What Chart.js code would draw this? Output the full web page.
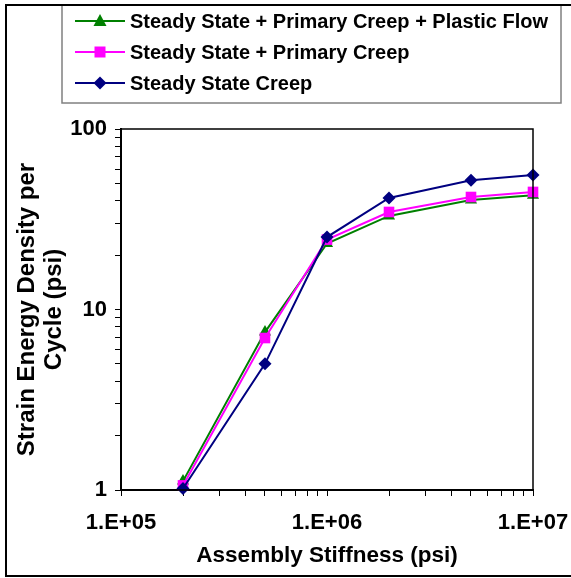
<!DOCTYPE html>
<html>
<head>
<meta charset="utf-8">
<script src="https://cdn.jsdelivr.net/npm/chart.js@4/dist/chart.umd.min.js"></script>
<style>
  html, body { margin: 0; padding: 0; background: #fff; }
  #wrap { width: 571px; height: 578px; }
</style>
</head>
<body>
<div id="wrap"><canvas id="chart_strainEnergy"></canvas></div>
<script>
// data
var stiffness = [2e5, 5e5, 1e6, 2e6, 5e6, 1e7];
var plasticFlow = [1.12, 7.5, 23.2, 33.0, 40.4, 43.0];
var primaryCreep = [1.06, 6.95, 24.4, 34.7, 42.0, 44.8];
var steadyState = [1.02, 5.0, 25.2, 41.5, 52.0, 55.6];

var seriesNames = [
    'Steady State + Primary Creep + Plastic Flow',
    'Steady State + Primary Creep',
    'Steady State Creep'
];

var xTicks = [1e5, 2e5, 3e5, 4e5, 5e5, 6e5, 7e5, 8e5, 9e5,
              1e6, 2e6, 3e6, 4e6, 5e6, 6e6, 7e6, 8e6, 9e6, 1e7];
var xMajor = [1e5, 1e6, 1e7];
var xLabels = ['1.E+05', '1.E+06', '1.E+07'];

var yTicks = [1, 2, 3, 4, 5, 6, 7, 8, 9, 10, 20, 30, 40, 50, 60, 70, 80, 90, 100];
var yMajor = [1, 10, 100];
var yLabels = ['1', '10', '100'];

function points(values) {
    return stiffness.map(function (x, i) { return { x: x, y: values[i] }; });
}

var colors = ['#008000', '#ff00ff', '#000080'];
var shapes = ['triangle', 'rect', 'rectRot'];
var radii = [7, 7.5, 6.5];

var chart_strainEnergy = new Chart(document.getElementById('chart_strainEnergy'), {
    type: 'line',
    data: {
        datasets: [
            {
                label: seriesNames[0],
                data: points(plasticFlow),
                order: 3
            },
            {
                label: seriesNames[1],
                data: points(primaryCreep),
                order: 2
            },
            {
                label: seriesNames[2],
                data: points(steadyState),
                order: 1
            }
        ].map(function (ds, i) {
            ds.borderColor = colors[i];
            ds.backgroundColor = colors[i];
            ds.borderWidth = 2;
            ds.pointStyle = shapes[i];
            ds.pointRadius = radii[i];
            ds.pointBorderWidth = 0;
            ds.tension = 0;
            ds.clip = false;
            return ds;
        })
    },
    options: {
        animation: false,
        responsive: true,
        maintainAspectRatio: false,
        layout: {
            padding: { left: 6, top: 129, right: 38, bottom: 6 }
        },
        plugins: {
            legend: { display: false },
            tooltip: { enabled: false }
        },
        scales: {
            x: {
                type: 'logarithmic',
                min: 1e5,
                max: 1e7,
                afterBuildTicks: function (scale) {
                    scale.ticks = xTicks.map(function (v) { return { value: v }; });
                },
                afterFit: function (scale) {
                    scale.height = 82;
                    scale.paddingLeft = 0;
                    scale.paddingRight = 0;
                },
                ticks: {
                    autoSkip: false,
                    maxRotation: 0,
                    padding: 14,
                    color: '#000',
                    font: { family: 'Liberation Sans', size: 22, weight: 'bold' },
                    callback: function (value) {
                        var i = xMajor.indexOf(value);
                        return i < 0 ? '' : xLabels[i];
                    }
                },
                grid: {
                    drawOnChartArea: false,
                    drawTicks: true,
                    tickLength: 6,
                    tickColor: '#000',
                    tickWidth: 1
                },
                border: { display: true, color: '#000', width: 2 },
                title: {
                    display: true,
                    text: 'Assembly Stiffness (psi)',
                    color: '#000',
                    padding: { top: 0, bottom: 3 },
                    font: { family: 'Liberation Sans', size: 22.5, weight: 'bold' }
                }
            },
            y: {
                type: 'logarithmic',
                min: 1,
                max: 100,
                afterBuildTicks: function (scale) {
                    scale.ticks = yTicks.map(function (v) { return { value: v }; });
                },
                afterFit: function (scale) { scale.width = 115; },
                ticks: {
                    autoSkip: false,
                    padding: 8,
                    color: '#000',
                    font: { family: 'Liberation Sans', size: 22, weight: 'bold' },
                    callback: function (value) {
                        var i = yMajor.indexOf(value);
                        return i < 0 ? '' : yLabels[i];
                    }
                },
                grid: {
                    drawOnChartArea: false,
                    drawTicks: true,
                    tickLength: 6,
                    tickColor: '#000',
                    tickWidth: 1
                },
                border: { display: true, color: '#000', width: 2 },
                title: {
                    display: true,
                    text: ['Strain Energy Density per', 'Cycle (psi)'],
                    color: '#000',
                    padding: { top: 8, bottom: 0 },
                    font: { family: 'Liberation Sans', size: 24, weight: 'bold', lineHeight: 1.12 }
                }
            }
        }
    },
    plugins: [{
        id: 'excelFrame',
        beforeDraw: function (chart) {
            var ctx = chart.ctx;
            ctx.save();
            ctx.fillStyle = 'white';
            ctx.fillRect(0, 0, chart.width, chart.height);
            ctx.restore();
        },
        afterDraw: function (chart) {
            var ctx = chart.ctx;
            var a = chart.chartArea;
            ctx.save();
            // plot area box
            ctx.strokeStyle = '#000';
            ctx.lineWidth = 1.5;
            ctx.strokeRect(a.left, a.top, a.right - a.left, a.bottom - a.top);
            // outer chart border
            ctx.lineWidth = 2;
            ctx.strokeStyle = '#000';
            ctx.strokeRect(6, 5, 620, 571);
            // legend box
            ctx.fillStyle = '#fff';
            ctx.fillRect(62, 6, 499, 97);
            ctx.strokeStyle = '#808080';
            ctx.lineWidth = 1.5;
            ctx.strokeRect(62, 5, 499, 98);
            ctx.strokeStyle = '#000';
            ctx.lineWidth = 2;
            ctx.beginPath();
            ctx.moveTo(6, 5);
            ctx.lineTo(571, 5);
            ctx.stroke();
            // legend entries
            var rows = [21, 52, 83];
            chart.data.datasets.forEach(function (ds, i) {
                var y = rows[i];
                ctx.strokeStyle = ds.borderColor;
                ctx.lineWidth = 2;
                ctx.beginPath();
                ctx.moveTo(75, y);
                ctx.lineTo(125, y);
                ctx.stroke();
                ctx.fillStyle = ds.backgroundColor;
                ctx.beginPath();
                if (ds.pointStyle === 'triangle') {
                    ctx.moveTo(100, y - 7);
                    ctx.lineTo(106.5, y + 5);
                    ctx.lineTo(93.5, y + 5);
                } else if (ds.pointStyle === 'rect') {
                    ctx.rect(94.5, y - 5.5, 11, 11);
                } else {
                    ctx.moveTo(100, y - 6.5);
                    ctx.lineTo(106.5, y);
                    ctx.lineTo(100, y + 6.5);
                    ctx.lineTo(93.5, y);
                }
                ctx.closePath();
                ctx.fill();
                ctx.fillStyle = '#000';
                ctx.font = 'bold 20px "Liberation Sans"';
                ctx.textBaseline = 'middle';
                ctx.textAlign = 'left';
                ctx.fillText(ds.label, 130, y + 1);
            });
            ctx.restore();
        }
    }]
});
</script>
</body>
</html>
